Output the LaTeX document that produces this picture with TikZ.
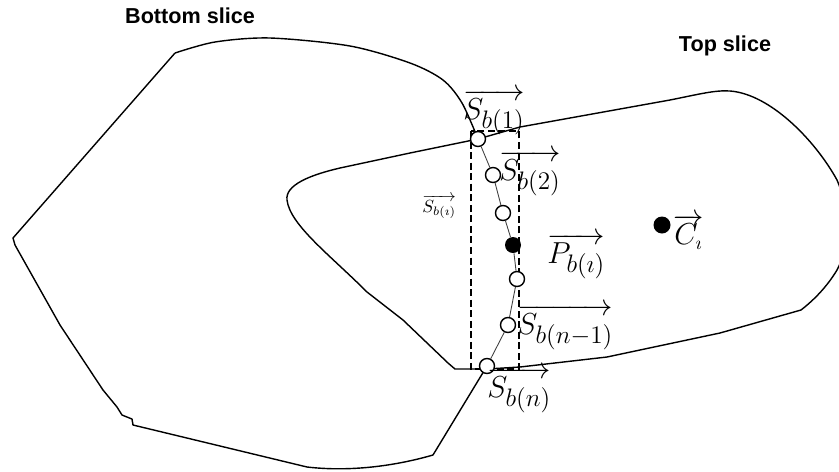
\documentclass[tikz,border=0pt]{standalone}
\usepackage{fontspec}
\newfontfamily\arialfont{Liberation Sans}
\DeclareMathSizes{17}{17}{14}{11}
\begin{document}
\begin{tikzpicture}[x=0.02cm,y=-0.02cm,
    outline/.style={line width=0.8pt,line join=round},
    chainline/.style={line width=0.5pt,black!75},
    dashbox/.style={line width=0.8pt,dash pattern=on 4pt off 2pt},
    pt/.style={circle,draw,line width=0.8pt,fill=white,minimum size=0.3cm,inner sep=0pt},
    ptfull/.style={circle,fill=black,minimum size=0.32cm,inner sep=0pt},
    vec/.style={anchor=north west,inner sep=0pt,font={\fontsize{17}{20}\selectfont}},
    title/.style={font={\arialfont\bfseries\fontsize{12.3}{14}\selectfont}}]
    \useasboundingbox (0,0) rectangle (839,471);

    % bottom slice
    \draw[outline] plot[smooth] coordinates {(175,53) (215,42) (270,38) (350,46) (410,63) (443,80) (462,103) (478,139)};
    \draw[outline] (487,366) -- (433,455) .. controls (395,466) and (350,472) .. (307,467)
        -- (133,425) -- (132,419) -- (122,415) -- (117,407) -- (103,390) -- (60,325)
        -- (15,245) -- (13,238) -- (175,53);

    % top slice
    \draw[outline] (478,139) -- (520,127) -- (670,100) .. controls (700,94) and (715,90) .. (730,91)
        .. controls (770,94) and (815,140) .. (837,180) .. controls (852,215) and (848,250) .. (837,270)
        .. controls (825,290) and (810,303) .. (801,310) -- (720,333) -- (607,357) -- (520,367)
        -- (487,369) -- (455,369) -- (448,363) -- (403,320) -- (367,292)
        .. controls (330,255) and (290,225) .. (287,200) .. controls (285,185) and (310,175) .. (340,168)
        -- (410,153) -- cycle;

    \draw[dashbox] (471,131) rectangle (519,369);

    \node[pt] (s1) at (478,139) {};
    \node[pt] (s2) at (493,175) {};
    \node[pt] (s3) at (503,213) {};
    \node[ptfull] (pb) at (513,245) {};
    \node[pt] (s5) at (517,279) {};
    \node[pt] (s6) at (508,325) {};
    \node[pt] (sn) at (487,366) {};
    \node[ptfull,minimum size=0.34cm] (ci) at (662,225) {};
    \draw[chainline] (s1) -- (s2) -- (s3) -- (pb) -- (s5) -- (s6) -- (sn);

    \node[vec] (ls1) at (463,89) {$\overrightarrow{S_{b(1)}}$};
    \node[vec] (ls2) at (499,150) {$\overrightarrow{S_{b(2)}}$};
    \node[vec,font=\normalsize] (lsi) at (422,195) {$\overrightarrow{S_{b(\imath)}}$};
    \node[vec] (lpb) at (547,233) {$\overrightarrow{P_{b(\imath)}}$};
    \node[vec] (ls6) at (517,304) {$\overrightarrow{S_{b(n-1)}}$};
    \node[vec] (lsn) at (487,367) {$\overrightarrow{S_{b(n)}}$};
    \node[vec] (lci) at (673,214) {$\overrightarrow{C_{\scriptscriptstyle\imath}}$};

    \node[title] (bottom) at (190,16) {Bottom slice};
    \node[title] (top) at (725,46) {Top slice};
\end{tikzpicture}
\end{document}
